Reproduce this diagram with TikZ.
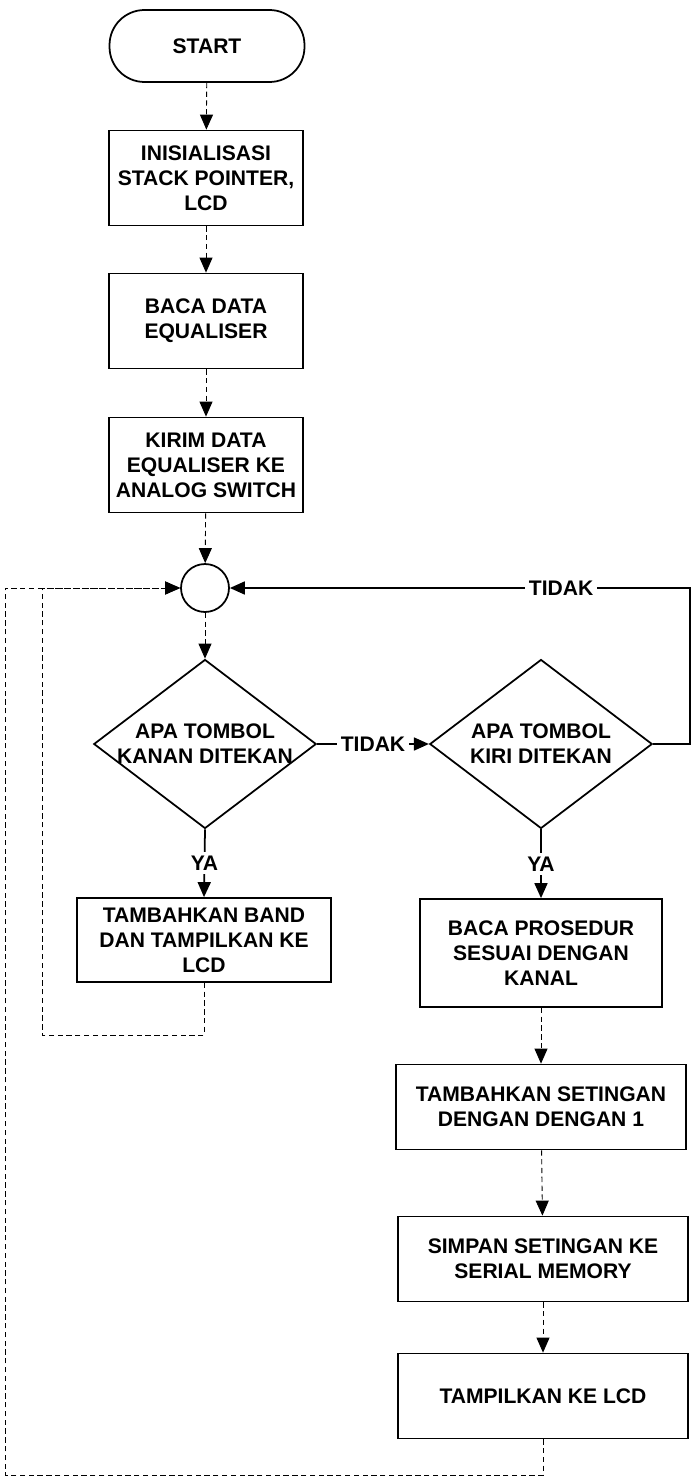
\documentclass[tikz,border=0pt]{standalone}
\usepackage{fontspec}
\setmainfont{Liberation Sans}
\usetikzlibrary{arrows.meta, shapes.geometric}

\begin{document}
\begin{tikzpicture}[x=0.02cm, y=-0.02cm,
  every node/.style={font=\bfseries\fontsize{12}{14.2}\selectfont},
  terminal/.style={draw, line width=1pt, rounded corners=0.7cm, minimum width=3.9cm, minimum height=1.44cm},
  proses/.style={draw, line width=1pt, align=center, minimum width=3.88cm, minimum height=1.9cm},
  keputusan/.style={draw, diamond, line width=1pt, inner sep=0pt, minimum width=4.45cm, minimum height=3.38cm},
  penghubung/.style={draw, circle, line width=1pt, minimum size=0.96cm},
  garis/.style={line width=1pt, -{Triangle[length=0.3cm, width=0.26cm]}},
  garistipis/.style={line width=0.5pt, densely dashed, -{Triangle[length=0.3cm, width=0.26cm]}},
  teks/.style={fill=white, inner sep=2pt}]
\useasboundingbox (0,0) rectangle (695,1480);

%Kolom kiri
\node[terminal] (start) at (207,46) {START};
\node[proses] (inis) at (206,178) {INISIALISASI\\STACK POINTER,\\LCD};
\node[proses] (baca) at (206,321) {BACA DATA\\EQUALISER};
\node[proses] (kirim) at (206,465) {KIRIM DATA\\EQUALISER KE\\ANALOG SWITCH};
\node[penghubung] (titik) at (205,588) {};
\node[keputusan, label={[align=center]center:APA TOMBOL\\KANAN DITEKAN}] (kanan) at (205,744) {};
\node[proses, minimum width=5.08cm, minimum height=1.68cm] (band) at (204,940) {TAMBAHKAN BAND\\DAN TAMPILKAN KE\\LCD};

%Kolom kanan
\node[keputusan, label={[align=center]center:APA TOMBOL\\KIRI DITEKAN}] (kiri) at (541,744) {};
\node[proses, minimum width=4.84cm, minimum height=2.16cm] (prosedur) at (541,953) {BACA PROSEDUR\\SESUAI DENGAN\\KANAL};
\node[proses, minimum width=5.8cm, minimum height=1.7cm] (tambah) at (541,1107) {TAMBAHKAN SETINGAN\\DENGAN DENGAN 1};
\node[proses, minimum width=5.8cm, minimum height=1.7cm] (simpan) at (543,1259) {SIMPAN SETINGAN KE\\SERIAL MEMORY};
\node[proses, minimum width=5.8cm, minimum height=1.7cm] (tampil) at (543,1396) {TAMPILKAN KE LCD};

%Titik belok
\coordinate (belok) at (690,744);
\coordinate (balik1) at (42,1035);
\coordinate (balik2) at (5,1475);

%Garis alir
\draw[garistipis] (start) -- (inis);
\draw[garistipis] (inis) -- (baca);
\draw[garistipis] (baca) -- (kirim);
\draw[garistipis] (kirim) -- (titik);
\draw[garistipis] (titik) -- (kanan);
\draw[garis] (kanan.south) -- node[teks] {YA} (band.north);
\draw[garis] (kiri.south) -- node[teks] {YA} (prosedur.north);
\draw[garis] (kanan.east) -- node[teks] {TIDAK} (kiri.west);
\draw[garis] (kiri.east) -- (belok) |- node[teks, pos=0.64] {TIDAK} (titik.east);
\draw[garistipis] (prosedur) -- (tambah);
\draw[garistipis] (tambah) -- (simpan);
\draw[garistipis] (simpan) -- (tampil);

%Kembali ke titik
\draw[garistipis] (band.south) |- (balik1) |- (titik.west);
\draw[garistipis] (tampil.south) |- (balik2) |- (titik.west);
\end{tikzpicture}
\end{document}
